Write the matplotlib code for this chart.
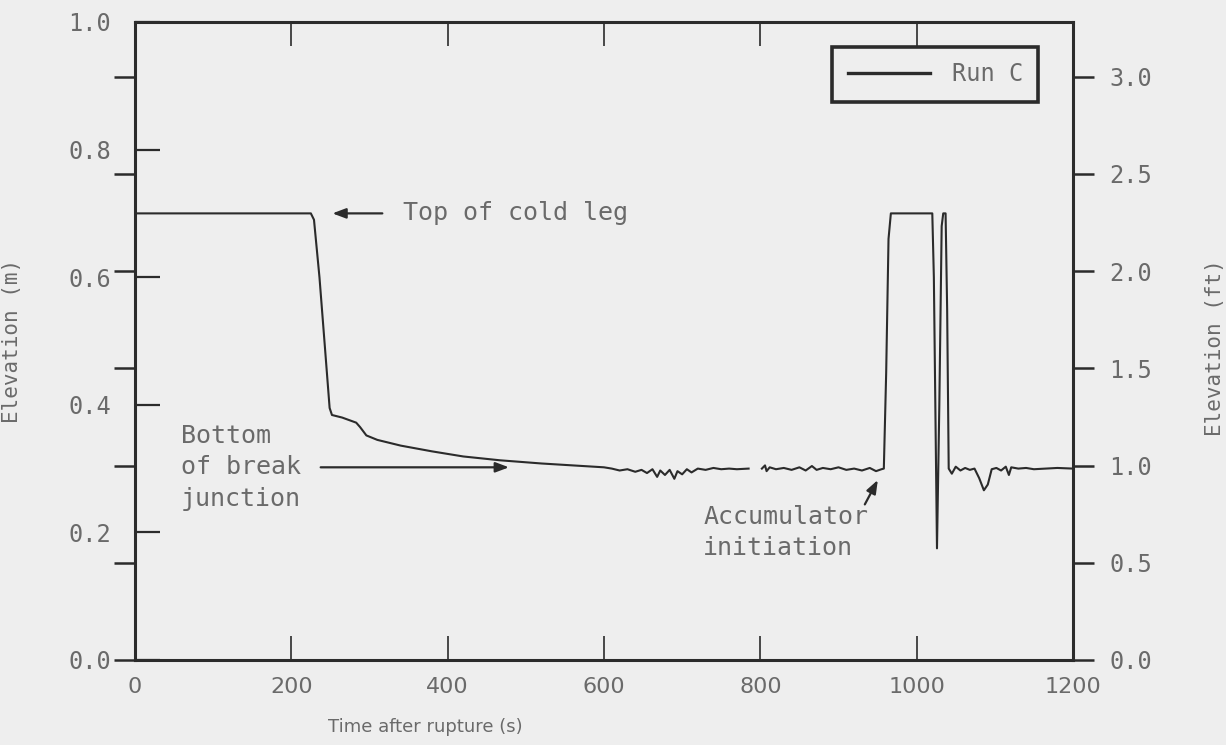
import numpy as np
import matplotlib
matplotlib.use("Agg")
import matplotlib.pyplot as plt

M_PER_FT = 0.3048

# liquid level in the cold leg, Run C (NaN = dropout in the record)
time_s = [0, 225, 229, 236, 243, 249, 252, 265, 283, 288, 296, 310, 340, 380, 420, 467,
          520, 560, 600, 610, 620, 630, 640, 648, 655, 662, 668, 672, 678, 684, 690, 694,
          700, 706, 712, 720, 730, 740, 750, 760, 770, 785,
          793,
          802, 806, 808, 812, 820, 830, 840, 850, 858, 866, 872, 880, 890, 900, 910, 920,
          930, 940, 948, 955, 958,
          961, 964, 967, 1020, 1022, 1026, 1029, 1032, 1034, 1037, 1039, 1041,
          1045, 1050, 1056, 1062, 1068, 1074, 1080, 1086, 1091, 1096, 1102, 1108, 1114,
          1118, 1121, 1130, 1140, 1150, 1165, 1180, 1200]
level_m = [0.70, 0.70, 0.69, 0.60, 0.49, 0.395, 0.384, 0.380, 0.372, 0.365, 0.352, 0.345,
           0.336, 0.327, 0.319, 0.313, 0.308, 0.305, 0.302, 0.300, 0.297, 0.299, 0.295,
           0.298, 0.293, 0.299, 0.287, 0.297, 0.290, 0.298, 0.284, 0.296, 0.291, 0.299,
           0.294, 0.300, 0.298, 0.301, 0.299, 0.300, 0.299, 0.300,
           np.nan,
           0.300, 0.305, 0.296, 0.302, 0.299, 0.301, 0.298, 0.302, 0.297, 0.304, 0.298,
           0.301, 0.299, 0.302, 0.298, 0.300, 0.297, 0.301, 0.296, 0.299, 0.300,
           0.45, 0.66, 0.70, 0.70, 0.60, 0.175, 0.40, 0.68, 0.70, 0.70, 0.55, 0.30,
           0.292, 0.303, 0.297, 0.301, 0.298, 0.300, 0.285, 0.266, 0.275, 0.299, 0.301,
           0.297, 0.303, 0.290, 0.302, 0.300, 0.301, 0.299, 0.300, 0.301, 0.300]

x_ticks = [0, 200, 400, 600, 800, 1000, 1200]
m_ticks = [0.0, 0.2, 0.4, 0.6, 0.8, 1.0]
ft_ticks = [0.0, 0.5, 1.0, 1.5, 2.0, 2.5, 3.0]

bg = "#eeeeee"
ink = "#2b2b2b"
txt = "#6a6a6a"
mono = ["DejaVu Sans Mono"]
sans = ["DejaVu Sans"]

fig = plt.figure(figsize=(12.26, 7.45), dpi=100, facecolor=bg)
ax = fig.add_axes([0.1101, 0.1141, 0.7651, 0.8564])
ax.set_facecolor(bg)

ax.plot(time_s, level_m, color=ink, lw=1.5, label="Run C")

ax.set_xlim(0, 1200)
ax.set_ylim(0, 1.0)
ax.set_xticks(x_ticks)
ax.set_yticks(m_ticks)
ax.set_yticklabels([f"{v:.1f}" for v in m_ticks], family=mono, fontsize=17, color=txt)
ax.set_xticklabels([str(v) for v in x_ticks], family=sans, fontsize=16, color=txt)

for s in ax.spines.values():
    s.set_linewidth(2.2)
    s.set_color(ink)

ax.tick_params(axis="x", direction="in", top=True, bottom=True, length=17,
               width=1.2, color=ink, pad=12)
ax.tick_params(axis="y", direction="in", left=True, right=True, labelright=False,
               length=18, width=1.6, color=ink, pad=17)

# second scale in feet
ax2 = ax.twinx()
ax2.set_ylim(0, 1.0 / M_PER_FT)
ax2.set_yticks(ft_ticks)
ax2.set_yticklabels([f"{v:.1f}" for v in ft_ticks], family=mono, fontsize=17, color=txt)
ax2.yaxis.set_ticks_position("both")
ax2.tick_params(axis="y", direction="out", length=15, width=1.8, color=ink,
                labelleft=False, labelright=True, pad=11)
for s in ax2.spines.values():
    s.set_visible(False)

ax.set_ylabel("Elevation (m)", family=mono, fontsize=15, color=txt)
ax.yaxis.set_label_coords(-0.1205, 0.5)
ax2.set_ylabel("Elevation (ft)", family=mono, fontsize=15, color=txt)
ax2.yaxis.set_label_coords(1.141, 0.49)
ax.set_xlabel("Time after rupture (s)", family=sans, fontsize=13, color=txt)
ax.xaxis.set_label_coords(0.309, -0.091)

# annotations
arrow = dict(arrowstyle="-|>,head_length=0.8,head_width=0.3", color=ink, lw=1.6)
ax.annotate("", xy=(249, 0.70), xytext=(320, 0.70), arrowprops=arrow)
ax.text(343, 0.70, "Top of cold leg", family=mono, fontsize=18, color=txt, va="center")

ax.annotate("", xy=(482, 0.302), xytext=(234, 0.302), arrowprops=arrow)
ax.text(59, 0.302, "Bottom\nof break\njunction", family=mono, fontsize=18, color=txt,
        va="center", ha="left", linespacing=1.4)

ax.annotate("", xy=(952, 0.286), xytext=(932, 0.240), arrowprops=arrow)
ax.text(727, 0.2, "Accumulator\ninitiation", family=mono, fontsize=18, color=txt,
        va="center", ha="left", linespacing=1.4)

leg = ax.legend(loc="upper right", bbox_to_anchor=(0.963, 0.961), frameon=True,
                fancybox=False, borderpad=0.65, handlelength=3.5, handletextpad=0.9,
                borderaxespad=0, prop={"family": mono, "size": 17})
leg.get_frame().set_edgecolor(ink)
leg.get_frame().set_linewidth(2.6)
leg.get_frame().set_facecolor(bg)
leg.get_frame().set_alpha(1)
for t in leg.get_texts():
    t.set_color(txt)
for h in leg.get_lines():
    h.set_linewidth(2.4)

fig.savefig("out.png", dpi=100, facecolor=bg)
